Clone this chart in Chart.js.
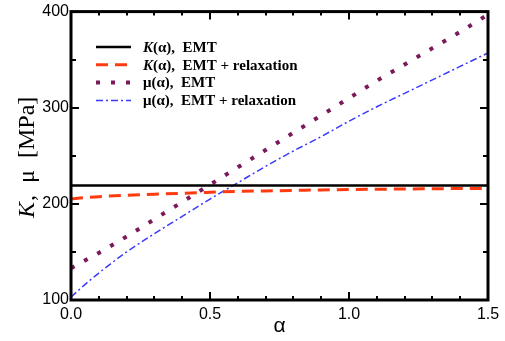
<!DOCTYPE html>
<html>
<head>
<meta charset="utf-8">
<script src="https://cdn.jsdelivr.net/npm/chart.js@4.4.1/dist/chart.umd.min.js"></script>
<style>
  body { margin: 0; background: #fff; }
  #myChart { display: block; }
</style>
</head>
<body>
<canvas id="myChart" width="505" height="341"></canvas>
<script>
const ctx = document.getElementById('myChart');

// alpha values shared by every curve
const alphas = [0, 0.05, 0.1, 0.2, 0.3, 0.4, 0.5, 0.6, 0.7, 0.8, 0.9, 1.0, 1.1, 1.2, 1.3, 1.4, 1.5];

// K(alpha), EMT
const k_emt = [219, 219, 219, 219, 219, 219, 219, 219, 219, 219, 219, 219, 219, 219, 219, 219, 219];
// K(alpha), EMT + relaxation
const k_relax = [205, 206.5, 207.5, 209, 210, 211, 212, 213, 213.5, 214, 214.5, 215, 215.2, 215.5, 215.7, 216, 216];
// mu(alpha), EMT
const mu_emt = [133, 141, 149, 166, 184, 202, 220, 238, 256, 274, 292, 310, 328, 345, 362, 379, 397];
// mu(alpha), EMT + relaxation
const mu_relax = [103, 116, 128, 150, 169, 187, 205, 222, 239, 255, 270, 286, 301, 315, 329, 343, 357];

const x_ticks = [0, 0.5, 1.0, 1.5];
const y_ticks = [100, 200, 300, 400];

// legend text pieces: [text, italic]
const legend_parts = [
  [['K', true], ['(α),  EMT', false]],
  [['K', true], ['(α),  EMT + relaxation', false]],
  [['μ(α),  EMT', false]],
  [['μ(α),  EMT + relaxation', false]]
];

function pts(ys) {
  return alphas.map((a, i) => ({ x: a, y: ys[i] }));
}

const framePlugin = {
  id: 'frame',
  afterDatasetsDraw(chart) {
    const c = chart.ctx;
    const a = chart.chartArea;
    const xs = chart.scales.x;
    const ys = chart.scales.y;
    c.save();
    c.strokeStyle = '#000';
    c.setLineDash([]);

    // ticks, pointing inwards, on all four sides
    c.lineWidth = 2;
    c.beginPath();
    for (let i = 0; i <= 15; i++) {
      const v = i / 10;
      const px = Math.round(xs.getPixelForValue(v));
      const len = (i % 5 === 0) ? 8 : 4;
      c.moveTo(px, a.bottom); c.lineTo(px, a.bottom - len);
      c.moveTo(px, a.top); c.lineTo(px, a.top + len);
    }
    for (let v = 100; v <= 400; v += 50) {
      const py = Math.round(ys.getPixelForValue(v));
      const len = (v % 100 === 0) ? 8 : 5;
      c.moveTo(a.left, py); c.lineTo(a.left + len, py);
      c.moveTo(a.right, py); c.lineTo(a.right - len, py);
    }
    c.stroke();

    // box
    c.lineWidth = 3;
    c.strokeRect(a.left, a.top, a.right - a.left, a.bottom - a.top);

    // y axis title with italic K
    c.translate(28, (a.top + a.bottom) / 2 + 2);
    c.rotate(-Math.PI / 2);
    c.fillStyle = '#000';
    c.textBaseline = 'middle';
    const p1 = 'K';
    const p2 = ',  μ  [MPa]';
    c.font = 'italic 24px "Liberation Serif"';
    const w1 = c.measureText(p1).width;
    c.font = '24px "Liberation Serif"';
    const w2 = c.measureText(p2).width;
    let x0 = -(w1 + w2) / 2;
    c.font = 'italic 24px "Liberation Serif"';
    c.fillText(p1, x0, 0);
    c.font = '24px "Liberation Serif"';
    c.fillText(p2, x0 + w1 + 1, 0);
    c.restore();

    // legend
    c.save();
    const lx0 = 96, lx1 = 131, tx = 143;
    chart.data.datasets.forEach((ds, i) => {
      const y = 47 + i * 17.8;
      c.strokeStyle = ds.borderColor;
      c.lineWidth = ds.borderWidth;
      c.setLineDash(ds.borderDash || []);
      c.beginPath();
      c.moveTo(lx0, y); c.lineTo(lx1, y);
      c.stroke();
      c.fillStyle = '#000';
      c.textBaseline = 'middle';
      let x = tx;
      legend_parts[i].forEach(([t, it]) => {
        c.font = (it ? 'italic ' : '') + 'bold 15px "Liberation Serif"';
        c.fillText(t, x, y + 1);
        x += c.measureText(t).width;
      });
    });
    c.restore();
  }
};

new Chart(ctx, {
  type: 'line',
  data: {
    datasets: [
      { label: 'K(α), EMT', data: pts(k_emt), borderColor: '#000000', borderWidth: 2.5, pointRadius: 0, tension: 0.3 },
      { label: 'K(α), EMT + relaxation', data: pts(k_relax), borderColor: '#ff3a10', borderWidth: 3, borderDash: [12, 7], pointRadius: 0, cubicInterpolationMode: 'monotone' },
      { label: 'μ(α), EMT', data: pts(mu_emt), borderColor: '#7a1a5a', borderWidth: 4, borderDash: [4, 11], pointRadius: 0, cubicInterpolationMode: 'monotone' },
      { label: 'μ(α), EMT + relaxation', data: pts(mu_relax), borderColor: '#3a3aff', borderWidth: 1.5, borderDash: [7, 3, 2, 3], pointRadius: 0, cubicInterpolationMode: 'monotone' }
    ]
  },
  options: {
    responsive: false,
    animation: false,
    devicePixelRatio: 1,
    layout: { padding: { top: 7, right: 17, left: 0, bottom: 0 } },
    plugins: { legend: { display: false }, tooltip: { enabled: false } },
    scales: {
      x: {
        type: 'linear',
        min: 0,
        max: 1.5,
        afterBuildTicks: s => { s.ticks = x_ticks.map(v => ({ value: v })); },
        ticks: {
          callback: v => v.toFixed(1),
          font: { family: '"Liberation Sans"', size: 16 },
          color: '#000',
          padding: 5,
          maxRotation: 0
        },
        grid: { display: false, drawTicks: false },
        border: { display: false },
        title: { display: true, text: 'α', font: { family: '"Liberation Sans"', size: 21 }, color: '#000', padding: { top: 0, bottom: 2 } },
        afterFit: s => { s.height = 41; }
      },
      y: {
        min: 100,
        max: 400,
        afterBuildTicks: s => { s.ticks = y_ticks.map(v => ({ value: v })); },
        ticks: {
          font: { family: '"Liberation Sans"', size: 16 },
          color: '#000',
          padding: 2
        },
        grid: { display: false, drawTicks: false },
        border: { display: false },
        afterFit: s => { s.width = 71; }
      }
    }
  },
  plugins: [framePlugin]
});
</script>
</body>
</html>
